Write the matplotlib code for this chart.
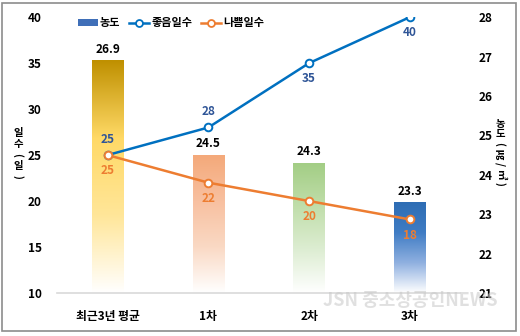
import matplotlib.pyplot as plt
import numpy as np
from matplotlib.colors import LinearSegmentedColormap
from matplotlib.lines import Line2D
from matplotlib.patches import Patch, Rectangle

plt.rcParams['font.family'] = ['Noto Sans CJK KR', 'DejaVu Sans']

categories = ['최근3년 평균', '1차', '2차', '3차']
density = [26.9, 24.5, 24.3, 23.3]
good_days = [25, 28, 35, 40]
bad_days = [25, 22, 20, 18]
good_label_above = [True, True, False, False]

# bottom -> top colour stops for each bar
bar_grads = [
    ['#FFFFFF', '#FFE699', '#FFD966', '#BF9000'],
    ['#FFFFFF', '#FAD9C4', '#F8C0A0', '#F4A97A'],
    ['#FFFFFF', '#DDEDD2', '#C0DEAA', '#A2CD84'],
    ['#FFFFFF', '#8FB0E0', '#3F7CC4', '#2E6DB4'],
]
blue = '#0070C0'
orange = '#ED7D31'
base = 21

fig = plt.figure(figsize=(5.2, 3.36), dpi=100)
fig.patches.append(Rectangle((0.004, 0.015), 0.988, 0.975, transform=fig.transFigure,
                             fill=False, edgecolor='#8C8C8C', linewidth=1.2))

ax2 = fig.add_axes([0.110, 0.128, 0.775, 0.821])   # density bars (right scale)
ax = ax2.twinx()
ax.yaxis.tick_left()
ax2.yaxis.tick_right()

x = np.arange(len(categories))
heights = np.array(density) - base
bars = ax2.bar(x, heights, bottom=base, width=0.31, color='none', edgecolor='none')
for b, stops in zip(bars, bar_grads):
    cmap = LinearSegmentedColormap.from_list('g', stops)
    grad = np.linspace(0, 1, 256).reshape(-1, 1)
    x0, y0 = b.get_x(), b.get_y()
    im = ax2.imshow(grad, cmap=cmap, origin='lower', aspect='auto',
                    extent=[x0, x0 + b.get_width(), y0, y0 + b.get_height()], zorder=2)
    im.set_clip_path(b)
ax2.set_xlim(-0.5, 3.5)
ax2.set_ylim(21, 28)
ax.set_ylim(10, 40)

for xi, v in zip(x, density):
    ax2.text(xi, v + 0.12, f'{v}', ha='center', va='bottom', fontsize=8.5,
             fontweight='bold', color='black')

ax.plot(x, good_days, color=blue, lw=1.8, marker='o', ms=5.5, mfc='white',
        mew=1.4, zorder=5)
ax.plot(x, bad_days, color=orange, lw=1.8, marker='o', ms=5.5, mfc='white',
        mew=1.4, zorder=5)
for xi, g, b, up in zip(x, good_days, bad_days, good_label_above):
    if up:
        ax.text(xi, g + 1.0, f'{g}', ha='center', va='bottom', fontsize=8.5,
                fontweight='bold', color='#2F5597')
    else:
        ax.text(xi, g - 1.0, f'{g}', ha='center', va='top', fontsize=8.5,
                fontweight='bold', color='#2F5597')
    ax.text(xi, b - 1.0, f'{b}', ha='center', va='top', fontsize=8.5,
            fontweight='bold', color=orange)

for a in (ax, ax2):
    for s in a.spines.values():
        s.set_visible(False)
    a.tick_params(length=0, labelsize=8.5)
ax2.spines['bottom'].set_visible(True)
ax2.spines['bottom'].set_color('#D9D9D9')
ax2.spines['bottom'].set_linewidth(1.2)

ax.set_yticks(range(10, 41, 5))
ax2.set_yticks(range(21, 29))
ax.tick_params(axis='y', pad=11)
ax2.tick_params(axis='y', pad=13)
for lab in ax.get_yticklabels() + ax2.get_yticklabels():
    lab.set_fontweight('bold')
ax2.set_xticks(x)
ax2.set_xticklabels(categories, fontsize=8.5, fontweight='bold')
ax2.tick_params(axis='x', pad=12)

# vertical axis titles, one glyph per line (brackets turned sideways)
def stack(xpos, ytop, parts, step=11):
    y = ytop
    for ch, rot in parts:
        fig.text(xpos / 520, 1 - y / 336, ch, ha='center', va='center', rotation=rot,
                 fontsize=7.5, fontweight='bold')
        y += step

stack(18, 133, [('일', 0), ('수', 0), ('(', 270), ('일', 0), (')', 270)])
stack(500, 124, [('농', 0), ('도', 0), ('(', 270), ('㎍', 270), ('/', 270),
                 ('㎥', 270), (')', 270)], step=10)

handles = [Patch(facecolor='#3F6FB8', edgecolor='none'),
           Line2D([], [], color=blue, lw=1.8, marker='o', ms=5, mfc='white', mew=1.3),
           Line2D([], [], color=orange, lw=1.8, marker='o', ms=5, mfc='white', mew=1.3)]
fig.legend(handles, ['농도', '좋음일수', '나쁨일수'], loc='center left',
           bbox_to_anchor=(0.13, 0.932), ncol=3, frameon=False,
           prop={'weight': 'bold', 'size': 8}, handlelength=1.8, handletextpad=0.2,
           columnspacing=0.8, handleheight=0.5)

fig.text(0.79, 0.105, 'JSN 중소상공인NEWS', ha='center', va='center', fontsize=13,
         fontweight='bold', color='#C8C8C8', alpha=0.55, zorder=10)

fig.savefig('out.png', dpi=100)
